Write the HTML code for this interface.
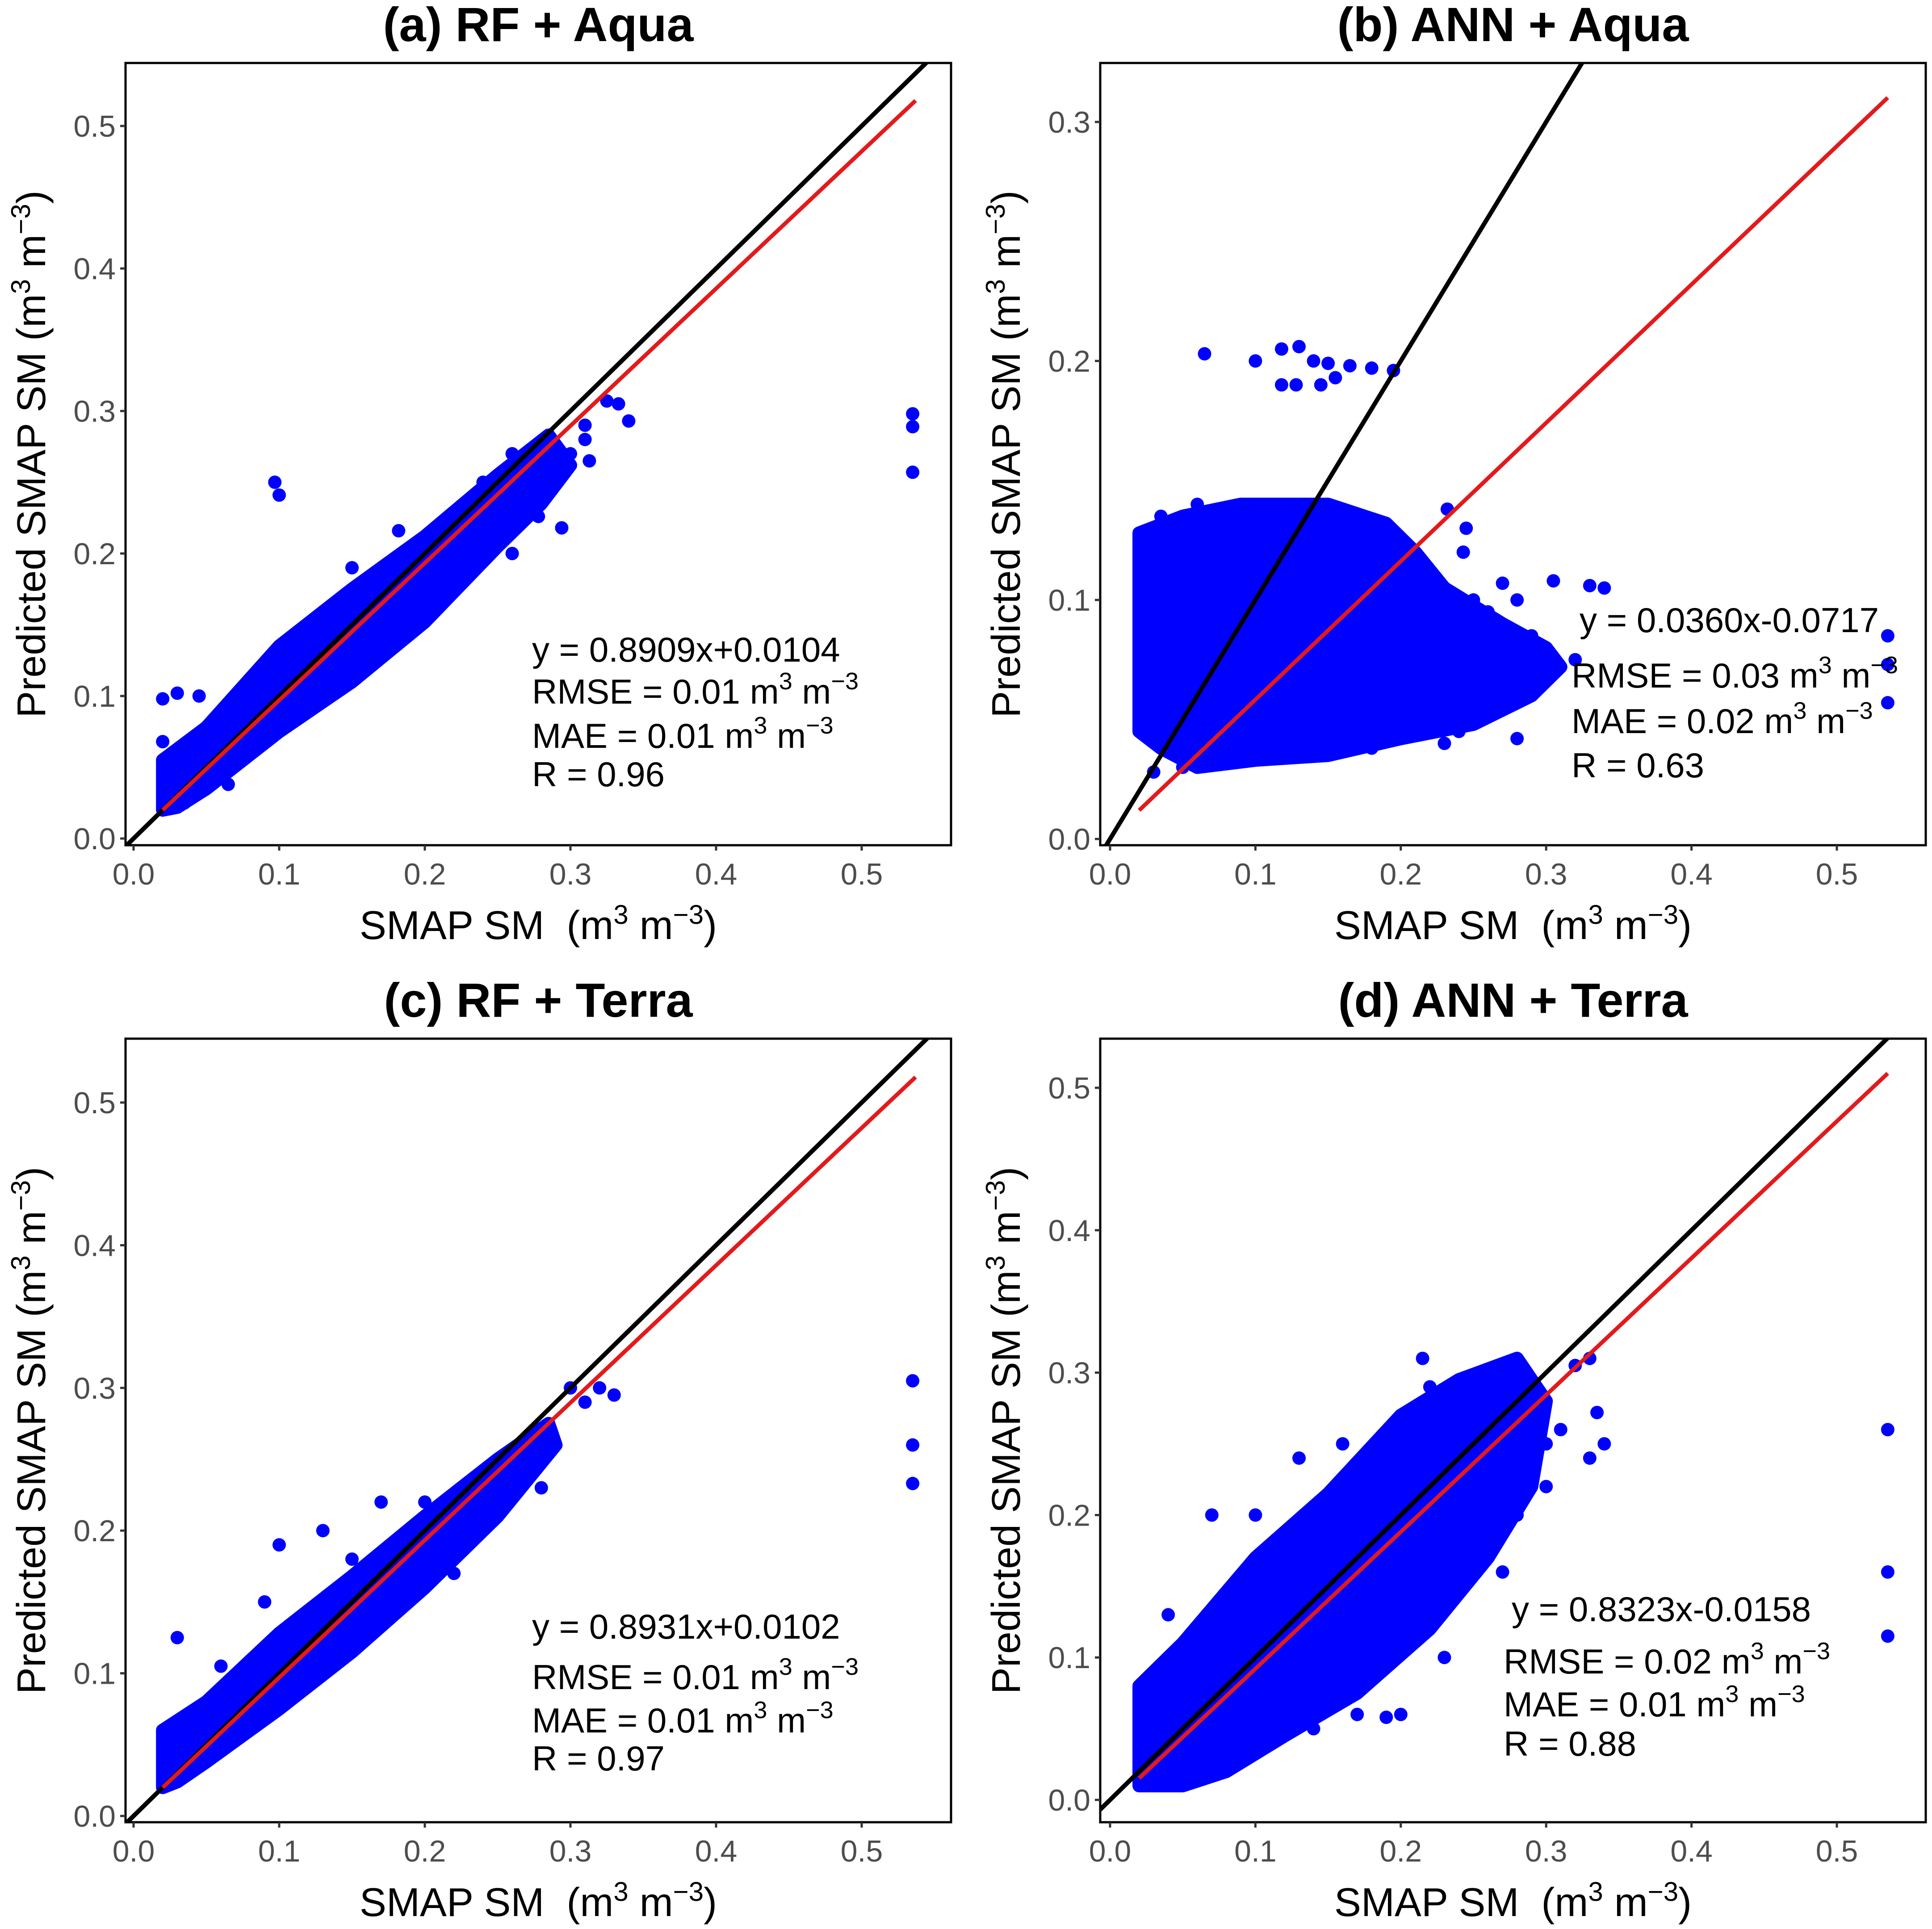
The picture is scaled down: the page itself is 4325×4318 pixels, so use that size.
<!DOCTYPE html>
<html><head><meta charset="utf-8"><style>
html,body{margin:0;padding:0;background:#fff}
svg{display:block}
text{font-family:"Liberation Sans",sans-serif}
</style></head><body>
<svg id="fig" width="4325" height="4318" viewBox="0 0 4325 4318" xmlns="http://www.w3.org/2000/svg"></svg>
<script>
// ---- data ----
const panelTitles = ["(a) RF + Aqua","(b) ANN + Aqua","(c) RF + Terra","(d) ANN + Terra"];
const xTicks = [0.0,0.1,0.2,0.3,0.4,0.5];
const yTicksA = [0.0,0.1,0.2,0.3,0.4,0.5];
const yTicksB = [0.0,0.1,0.2,0.3];
const fitSlope = [0.963,0.579,0.963,0.961];
const fitIntercept = [0.0007,0.0004,0.0007,-0.004];
const fitXStart = [0.02,0.02,0.02,0.02];
const fitXEnd = [0.537,0.535,0.537,0.535];
const eqText = ["y = 0.8909x+0.0104","y = 0.0360x-0.0717","y = 0.8931x+0.0102","y = 0.8323x-0.0158"];
const rmseVal = ["0.01","0.03","0.01","0.02"];
const maeVal = ["0.01","0.02","0.01","0.01"];
const rVal = ["0.96","0.63","0.97","0.88"];
const cloudA = [[0.02,0.02],[0.02,0.055],[0.05,0.078],[0.1,0.135],[0.15,0.175],[0.2,0.212],[0.25,0.255],[0.285,0.283],[0.3,0.262],[0.28,0.235],[0.25,0.205],[0.2,0.152],[0.15,0.11],[0.1,0.075],[0.05,0.035],[0.03,0.022]];
const outA = [[0.02,0.098],[0.03,0.102],[0.045,0.1],[0.02,0.068],[0.097,0.25],[0.1,0.241],[0.127,0.13],[0.182,0.216],[0.325,0.307],[0.333,0.305],[0.34,0.293],[0.31,0.29],[0.31,0.28],[0.313,0.265],[0.294,0.218],[0.278,0.226],[0.535,0.298],[0.535,0.289],[0.535,0.257],[0.065,0.038],[0.035,0.025],[0.26,0.27],[0.3,0.27],[0.22,0.185],[0.27,0.245],[0.15,0.19],[0.13,0.15],[0.24,0.25],[0.21,0.17],[0.26,0.2],[0.17,0.13]];
const cloudB = [[0.02,0.045],[0.02,0.128],[0.05,0.135],[0.09,0.14],[0.15,0.14],[0.19,0.132],[0.21,0.12],[0.23,0.105],[0.27,0.09],[0.3,0.08],[0.31,0.072],[0.29,0.06],[0.25,0.048],[0.2,0.042],[0.15,0.035],[0.1,0.033],[0.06,0.03],[0.035,0.038]];
const outB = [[0.065,0.203],[0.1,0.2],[0.118,0.205],[0.13,0.206],[0.14,0.2],[0.118,0.19],[0.128,0.19],[0.15,0.199],[0.165,0.198],[0.18,0.197],[0.195,0.196],[0.145,0.19],[0.155,0.193],[0.535,0.085],[0.535,0.073],[0.535,0.057],[0.34,0.105],[0.33,0.106],[0.305,0.108],[0.28,0.042],[0.232,0.138],[0.245,0.13],[0.243,0.12],[0.27,0.107],[0.28,0.1],[0.06,0.14],[0.035,0.135],[0.25,0.1],[0.03,0.028],[0.05,0.03],[0.24,0.045],[0.2,0.125],[0.22,0.11],[0.26,0.095],[0.29,0.085],[0.32,0.075],[0.23,0.04],[0.18,0.038]];
const cloudC = [[0.02,0.02],[0.02,0.06],[0.05,0.08],[0.1,0.128],[0.15,0.168],[0.2,0.21],[0.25,0.25],[0.285,0.275],[0.29,0.26],[0.27,0.235],[0.25,0.21],[0.2,0.16],[0.15,0.115],[0.1,0.075],[0.05,0.038],[0.03,0.024]];
const outC = [[0.535,0.305],[0.535,0.26],[0.535,0.233],[0.03,0.125],[0.1,0.19],[0.13,0.2],[0.3,0.3],[0.31,0.29],[0.33,0.295],[0.32,0.3],[0.06,0.105],[0.09,0.15],[0.28,0.27],[0.17,0.22],[0.24,0.21],[0.15,0.18],[0.2,0.22],[0.12,0.14],[0.22,0.17],[0.28,0.23]];
const cloudD = [[0.02,0.01],[0.02,0.08],[0.05,0.11],[0.1,0.17],[0.15,0.215],[0.2,0.27],[0.24,0.295],[0.28,0.31],[0.3,0.28],[0.29,0.22],[0.26,0.17],[0.22,0.12],[0.17,0.075],[0.12,0.045],[0.08,0.02],[0.05,0.01]];
const outD = [[0.535,0.26],[0.535,0.16],[0.535,0.115],[0.33,0.31],[0.335,0.272],[0.34,0.25],[0.33,0.24],[0.2,0.06],[0.19,0.058],[0.215,0.31],[0.32,0.305],[0.3,0.25],[0.28,0.2],[0.07,0.2],[0.13,0.24],[0.31,0.26],[0.25,0.18],[0.17,0.06],[0.04,0.13],[0.1,0.2],[0.16,0.25],[0.22,0.29],[0.26,0.3],[0.3,0.22],[0.27,0.16],[0.23,0.1],[0.14,0.05],[0.06,0.015],[0.08,0.14]];
const clouds = [cloudA,cloudB,cloudC,cloudD];
const outliers = [outA,outB,outC,outD];
// ---- layout (not data) ----
const boxes = [[281,141,2129,1892],[2463,141,4311,1892],[281,2325,2129,4079],[2463,2325,4311,4079]];
const scales = [[299,3260,1877,3190],[2485,3254,1878,5350],[299,3260,4065,3194],[2485,3254,4029,3188]];
const annoPos = [[1191,1481,1575,1674,1760],[3536,1415,1539,1641,1740],[1191,3668,3781,3878,3963],[3384,3629,3746,3842,3930]];
const NS='http://www.w3.org/2000/svg';
const svg=document.getElementById('fig');
function mk(tag,attrs,parent){const e=document.createElementNS(NS,tag);for(const k in attrs)e.setAttribute(k,attrs[k]);(parent||svg).appendChild(e);return e;}
const defs=mk('defs',{});
for(let p=0;p<4;p++){
  const [L,T,R,B]=boxes[p];const [x0,xk,y0,yk]=scales[p];
  const sx=v=>x0+v*xk, sy=v=>y0-v*yk;
  const g=mk('g',{});
  
  
  const cp=mk('clipPath',{id:'cp'+p},defs);mk('rect',{x:L,y:T,width:R-L,height:B-T},cp);
  const t=mk('text',{x:(L+R)/2,y:92,'text-anchor':'middle','font-size':108,'font-weight':'bold',fill:'#000'},g);
  if(p>1)t.setAttribute('y',2276);
  t.textContent=panelTitles[p];
  
  
  const marks=mk('g',{'clip-path':'url(#cp'+p+')'},g);
  const poly=mk('polygon',{points:clouds[p].map(d=>sx(d[0])+','+sy(d[1])).join(' '),fill:'#0000ff',stroke:'#0000ff','stroke-width':30,'stroke-linejoin':'round'},marks);
  
  
  outliers[p].forEach(d=>{const c=mk('circle',{cx:sx(d[0]),cy:sy(d[1]),r:15,fill:'#0000ff'},marks);
    
    });
  const one=mk('line',{x1:sx(-0.01),y1:sy(-0.01),x2:sx(0.7),y2:sy(0.7),stroke:'#000','stroke-width':10},marks);
  
  
  const fl=mk('line',{x1:sx(fitXStart[p]),y1:sy(fitSlope[p]*fitXStart[p]+fitIntercept[p]),x2:sx(fitXEnd[p]),y2:sy(fitSlope[p]*fitXEnd[p]+fitIntercept[p]),stroke:'#e31a1c','stroke-width':9},marks);
  
  
  const bx=mk('rect',{x:L,y:T,width:R-L,height:B-T,fill:'none',stroke:'#000','stroke-width':5},g);
  
  
  xTicks.forEach(v=>{mk('line',{x1:sx(v),y1:B,x2:sx(v),y2:B+12,stroke:'#333','stroke-width':5},g);
    const tl=mk('text',{x:sx(v),y:B+88,'text-anchor':'middle','font-size':68,fill:'#4d4d4d'},g);tl.textContent=v.toFixed(1);
    
    });
  (p===1?yTicksB:yTicksA).forEach(v=>{mk('line',{x1:L-12,y1:sy(v),x2:L,y2:sy(v),stroke:'#333','stroke-width':5},g);
    const tl=mk('text',{x:L-22,y:sy(v)+24,'text-anchor':'end','font-size':68,fill:'#4d4d4d'},g);tl.textContent=v.toFixed(1);
    
    });
  const xt=mk('text',{x:(L+R)/2,y:B+210,'text-anchor':'middle','font-size':90,fill:'#000'},g);
  xt.innerHTML='SMAP SM&#160;&#160;(m<tspan font-size="60" dy="-34">3</tspan><tspan dy="34"> m</tspan><tspan font-size="60" dy="-34">&#8722;3</tspan><tspan dy="34">)</tspan>';
  
  
  const yx=L-210, yc=(T+B)/2;
  const yt=mk('text',{x:yx,y:yc,'text-anchor':'middle','font-size':90,fill:'#000',transform:'rotate(-90 '+yx+' '+yc+')'},g);
  yt.setAttribute('dy','30');
  yt.innerHTML='Predicted SMAP SM (m<tspan font-size="60" dy="-34">3</tspan><tspan dy="34"> m</tspan><tspan font-size="60" dy="-34">&#8722;3</tspan><tspan dy="34">)</tspan>';
  
  
  const ap=annoPos[p];const ax=ap[0]-(p===1||p===3?18:0);
  const a1=mk('text',{x:ap[0],y:ap[1],'font-size':78,fill:'#000'},g);a1.textContent=eqText[p];
  
  
  const a2=mk('text',{x:ax,y:ap[2],'font-size':78,fill:'#000'},g);
  a2.innerHTML='RMSE = '+rmseVal[p]+' m<tspan font-size="54" dy="-32">3</tspan><tspan dy="32"> m</tspan><tspan font-size="54" dy="-32">&#8722;3</tspan>';
  
  
  const a3=mk('text',{x:ax,y:ap[3],'font-size':78,fill:'#000'},g);
  a3.innerHTML='MAE = '+maeVal[p]+' m<tspan font-size="54" dy="-32">3</tspan><tspan dy="32"> m</tspan><tspan font-size="54" dy="-32">&#8722;3</tspan>';
  
  
  const a4=mk('text',{x:ax,y:ap[4],'font-size':78,fill:'#000'},g);a4.textContent='R = '+rVal[p];
  
  
}
</script>
</body></html>
